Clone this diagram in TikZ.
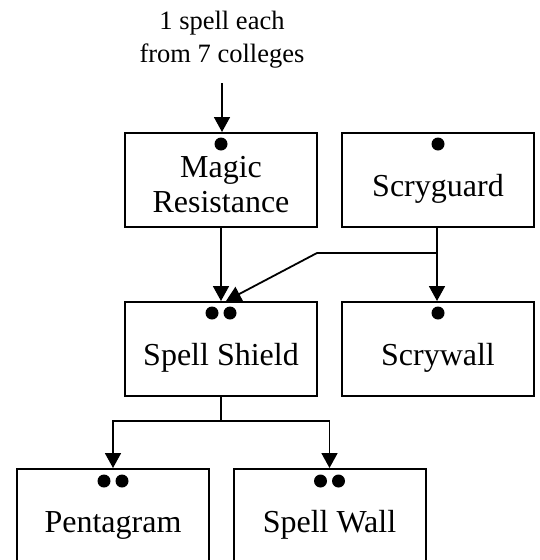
\documentclass[tikz,border=0pt]{standalone}
\usepackage{fontspec}
\setmainfont{Liberation Serif}
\usetikzlibrary{arrows.meta}

\begin{document}
\begin{tikzpicture}[x=1pt,y=1pt,inner sep=0pt,>={Triangle[width=16pt,length=15pt]},
  box/.style={rectangle,draw,line width=2pt,minimum width=192pt,minimum height=94pt},
  dot/.style={circle,fill=black,minimum size=13pt},
  lbl/.style={anchor=base,align=center,font=\fontsize{32}{35}\selectfont},
  link/.style={line width=1.8pt}]
\useasboundingbox (0,0) rectangle (540,-560);
\node (src) at (222,-62) [anchor=base,align=center,font=\fontsize{26.5}{33}\selectfont] {1 spell each\\from 7 colleges};
\coordinate (srcend) at (222,-83);
% boxes
\node (magic) at (221,-180) [box] {};
\node (scryguard) at (438,-180) [box] {};
\node (shield) at (221,-349) [box] {};
\node (scrywall) at (438,-349) [box] {};
\node (pentagram) at (113,-516) [box] {};
\node (wall) at (329.5,-516) [box] {};
% names
\node (magictxt) at (221,-212) [lbl] {Magic\\Resistance};
\node (scryguardtxt) at (438,-196) [lbl] {Scryguard};
\node (shieldtxt) at (221,-365) [lbl] {Spell Shield};
\node (scrywalltxt) at (438,-365) [lbl] {Scrywall};
\node (pentagramtxt) at (113,-532) [lbl] {Pentagram};
\node (walltxt) at (329.5,-532) [lbl] {Spell Wall};
% dots
\node (magicdot) at (221,-144) [dot] {};
\node (scryguarddot) at (438,-144) [dot] {};
\node (shielddota) at (212,-313) [dot] {};
\node (shielddotb) at (230,-313) [dot] {};
\node (scrywalldot) at (438,-313) [dot] {};
\node (pentagramdota) at (104,-481) [dot] {};
\node (pentagramdotb) at (122,-481) [dot] {};
\node (walldota) at (320.5,-481) [dot] {};
\node (walldotb) at (338.5,-481) [dot] {};
% links
\coordinate (split) at (437,-253);
\coordinate (bend) at (317,-253);
\coordinate (fork) at (221,-421);
\draw[->, link] (srcend) -- (magic.north -| srcend);
\draw[->, link] (magic.south) -- (shield.north);
\draw[->, link] (scryguard.south -| split) -- (scrywall.north -| split);
\draw[->, link] (split) -- (bend) -- ([xshift=5pt]shield.north);
\draw[->, link] (shield.south) -- (fork) -| (pentagram.north);
\draw[->, link] (fork) -| (wall.north);
\end{tikzpicture}
\end{document}
